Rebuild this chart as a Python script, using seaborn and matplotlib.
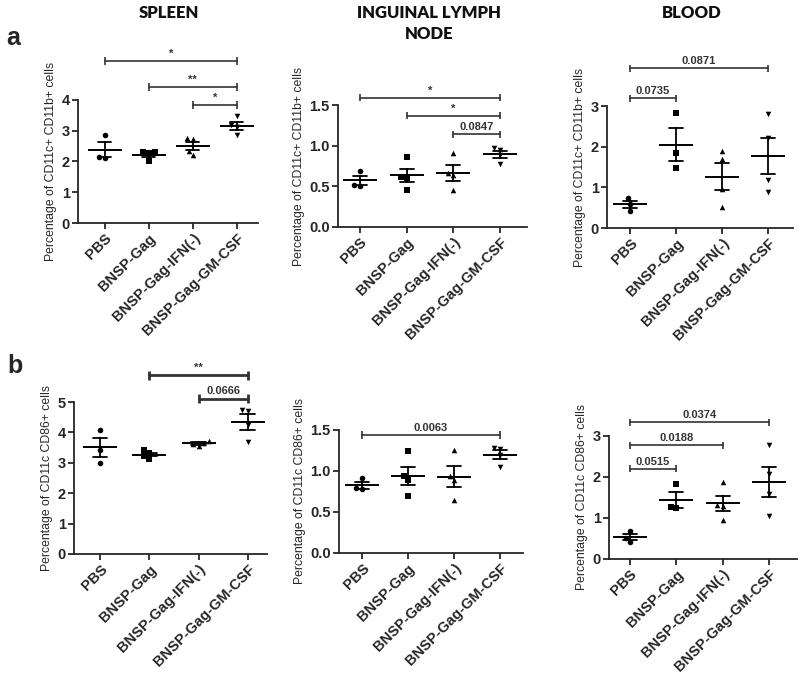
import matplotlib
matplotlib.use('Agg')
import matplotlib.pyplot as plt
import seaborn as sns
import numpy as np
import pandas as pd

# groups and markers used in every panel
groups = ['PBS', 'BNSP-Gag', 'BNSP-Gag-IFN(-)', 'BNSP-Gag-GM-CSF']
markers = ['o', 's', '^', 'v']

# a: percentage of CD11c+ CD11b+ cells (one list per group)
spleen_cd11b = [[2.86, 2.12, 2.15], [2.30, 2.30, 2.03, 2.27],
                [2.75, 2.72, 2.35, 2.22], [3.48, 3.18, 3.12, 2.85]]
iln_cd11b = [[0.69, 0.51, 0.52], [0.86, 0.62, 0.60, 0.46],
             [0.91, 0.66, 0.64, 0.45], [0.97, 0.95, 0.88, 0.78]]
blood_cd11b = [[0.73, 0.60, 0.42], [2.83, 1.84, 1.47],
               [1.90, 1.70, 0.95, 0.51], [2.80, 2.22, 1.17, 0.88]]

# b: percentage of CD11c CD86+ cells
spleen_cd86 = [[4.08, 3.43, 3.00], [3.42, 3.33, 3.22, 3.12],
               [3.72, 3.66, 3.62, 3.55], [4.74, 4.70, 4.25, 3.68]]
iln_cd86 = [[0.91, 0.79, 0.78], [1.24, 0.94, 0.89, 0.70],
            [1.25, 0.94, 0.89, 0.64], [1.28, 1.27, 1.20, 1.05]]
blood_cd86 = [[0.68, 0.51, 0.42], [1.82, 1.26, 1.24],
              [1.87, 1.32, 1.29, 0.95], [2.78, 2.07, 1.58, 1.05]]

# significance brackets: (from group, to group, height, label)
sig_spleen_cd11b = [(0, 3, 5.27, '*'), (1, 3, 4.42, '**'), (2, 3, 3.84, '*')]
sig_iln_cd11b = [(0, 3, 1.59, '*'), (1, 3, 1.37, '*'), (2, 3, 1.14, '0.0847')]
sig_blood_cd11b = [(0, 3, 3.93, '0.0871'), (0, 1, 3.19, '0.0735')]
sig_spleen_cd86 = [(1, 3, 5.88, '**'), (2, 3, 5.11, '0.0666')]
sig_iln_cd86 = [(0, 3, 1.44, '0.0063')]
sig_blood_cd86 = [(0, 3, 3.33, '0.0374'), (0, 2, 2.77, '0.0188'), (0, 1, 2.20, '0.0515')]

ylabel_a = 'Percentage of CD11c+ CD11b+ cells'
ylabel_b = 'Percentage of CD11c CD86+ cells'

sns.set_style('ticks')
plt.rcParams['font.family'] = ['Liberation Sans', 'DejaVu Sans']


def to_frame(values):
    rows = []
    for g, vals in zip(groups, values):
        for v in vals:
            rows.append({'group': g, 'value': v})
    return pd.DataFrame(rows)


def draw_panel(ax, values, ymax, yticks, ylabel, sigs, xlim, sig_lw=1.2, fmt='%g'):
    df = to_frame(values)
    # points, one marker shape per group
    for g, m in zip(groups, markers):
        sns.swarmplot(data=df[df.group == g], x='group', y='value', order=groups,
                      marker=m, color='black', size=4, ax=ax)
    # mean +/- SEM
    sns.pointplot(data=df, x='group', y='value', order=groups, errorbar='se',
                  capsize=0.3, linestyle='none', markers='_', markersize=24,
                  markeredgewidth=1.4, color='black', err_kws={'linewidth': 1.3}, ax=ax)
    ax.set_xlim(*xlim)
    ax.set_ylim(0, ymax)
    ax.set_yticks(yticks)
    ax.set_yticklabels([fmt % t for t in yticks], fontsize=10.5, fontweight='bold')
    ax.set_xticks(range(len(groups)))
    ax.set_xticklabels(groups, rotation=45, ha='right', rotation_mode='anchor',
                       fontsize=10.5, fontweight='bold')
    ax.set_xlabel('')
    ax.set_ylabel(ylabel, fontsize=8.8, labelpad=3)
    ax.tick_params(width=1.3, length=4, pad=2)
    for s in ['left', 'bottom']:
        ax.spines[s].set_linewidth(1.3)
    sns.despine(ax=ax)
    d = ymax * 0.03
    for i0, i1, h, lab in sigs:
        ax.plot([i0, i1], [h, h], color='#333333', lw=sig_lw, clip_on=False)
        ax.vlines([i0, i1], h - d, h + d, color='#333333', lw=sig_lw, clip_on=False)
        ax.text((i0 + i1) / 2, h + d * 0.6, lab, ha='center', va='bottom',
                fontsize=8, fontweight='bold', color='#333333', clip_on=False)


fig = plt.figure(figsize=(8, 6.77), dpi=100)

ax = fig.add_axes([0.0975, 0.6706, 0.225, 0.1817])
draw_panel(ax, spleen_cd11b, 4, [0, 1, 2, 3, 4], ylabel_a, sig_spleen_cd11b, (-0.61, 3.48))
ax = fig.add_axes([0.4225, 0.6647, 0.23625, 0.1802])
draw_panel(ax, iln_cd11b, 1.5, [0, 0.5, 1.0, 1.5], ylabel_a, sig_iln_cd11b, (-0.47, 3.58), fmt='%.1f')
ax = fig.add_axes([0.75875, 0.6632, 0.2325, 0.1802])
draw_panel(ax, blood_cd11b, 3, [0, 1, 2, 3], ylabel_a, sig_blood_cd11b, (-0.5, 3.54))

ax = fig.add_axes([0.0925, 0.1817, 0.24125, 0.2245])
draw_panel(ax, spleen_cd86, 5, [0, 1, 2, 3, 4, 5], ylabel_b, sig_spleen_cd86, (-0.53, 3.39), sig_lw=2)
ax = fig.add_axes([0.42375, 0.1832, 0.23, 0.1817])
draw_panel(ax, iln_cd86, 1.5, [0, 0.5, 1.0, 1.5], ylabel_b, sig_iln_cd86, (-0.5, 3.5), fmt='%.1f')
ax = fig.add_axes([0.76125, 0.1743, 0.235, 0.1817])
draw_panel(ax, blood_cd86, 3, [0, 1, 2, 3], ylabel_b, sig_blood_cd86, (-0.45, 3.6))

# column titles and panel letters
title_kw = dict(ha='center', va='center', fontsize=12, fontweight='heavy',
                family=['Lato', 'DejaVu Sans'], color='#111111')
fig.text(169 / 800, 1 - 12.5 / 677, 'SPLEEN', **title_kw)
fig.text(429 / 800, 1 - 23.5 / 677, 'INGUINAL LYMPH\nNODE', linespacing=1.45, **title_kw)
fig.text(692 / 800, 1 - 12.5 / 677, 'BLOOD', **title_kw)
fig.text(13 / 800, 1 - 38 / 677, 'a', ha='center', va='center', fontsize=18, fontweight='bold')
fig.text(15 / 800, 1 - 366 / 677, 'b', ha='center', va='center', fontsize=18, fontweight='bold')

plt.savefig('out.png', dpi=100)
